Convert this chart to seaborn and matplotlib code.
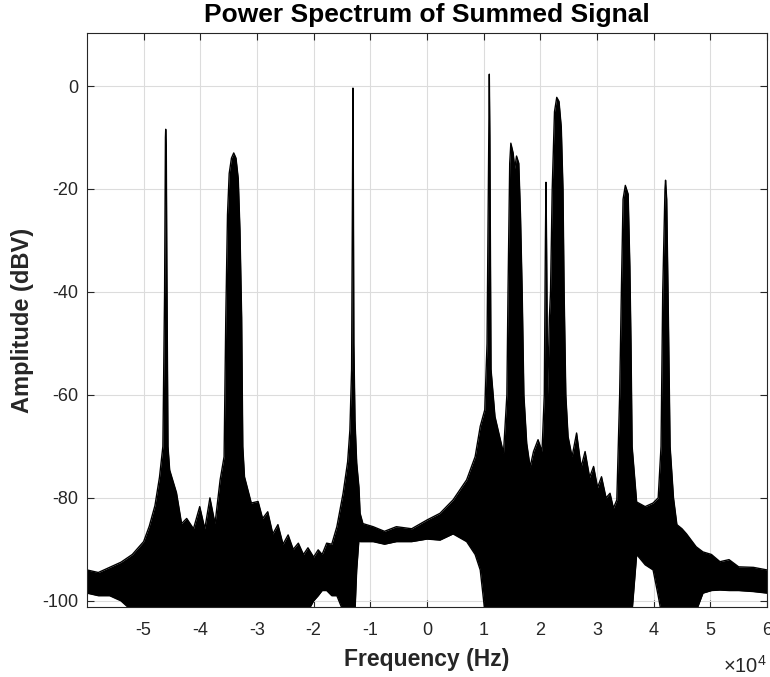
import numpy as np
import pandas as pd
import matplotlib
matplotlib.use("Agg")
import matplotlib.pyplot as plt
import seaborn as sns

# Frequency points (Hz) with the upper and lower edge of the dense spectrum trace (dBV)
freq_hz = [
    -60000, -58000, -56000, -54000, -52000, -50000, -49000, -48000, -47200, -46600,
    -46300, -46150, -46100, -46000, -45900, -45700, -45400, -44200, -43300, -42400,
    -41200, -40100, -39200, -38300, -37400, -36500, -35800, -35500, -35200, -34900,
    -34500, -34100, -33700, -33300, -33000, -32700, -32500, -32200, -31000, -29800,
    -29000, -28100, -27200, -26300, -25400, -24500, -23600, -22700, -21800, -21000,
    -20000, -19200, -18500, -17700, -16800, -15900, -14800, -14000, -13600, -13300,
    -13150, -13060, -13000, -12900, -12700, -12400, -12000, -11800, -11300, -9500,
    -7500, -5400, -2700, 0, 2300, 4600, 7000, 8500,
    9400, 10200, 10600, 10900, 11000, 11100, 11300, 12000, 12800, 13500,
    14100, 14300, 14600, 14800, 15200, 15500, 15800, 16200, 16500, 16800,
    17100, 17600, 18200, 18800, 19600, 20300, 20700, 20900, 21000, 21100, 21300,
    21600, 21800, 22100, 22500, 22900, 23300, 23700, 24000, 24200, 24500,
    24900, 25600, 26400, 27200, 27900, 28700, 29400, 30100, 30800, 31600, 32300, 32900, 33500, 34000,
    34300, 34600, 35000, 35500, 35800, 36000, 36200, 37000, 38500, 39900, 40800,
    41300, 41600, 42000, 42100, 42300, 42600, 42900, 43500, 44100, 45000, 45800,
    47500, 48700, 50200, 51700, 53300, 55000, 57600, 60000,
]
upper_dbv = [
    -94.0, -94.5, -93.5, -92.5, -91.0, -88.5, -85.5, -81.5, -76.0, -70.0,
    -40.0, -10.0, -8.4, -12.0, -35.0, -70.0, -74.6, -79.0, -85.0, -84.0,
    -86.0, -81.7, -86.0, -80.0, -85.0, -76.5, -72.0, -45.0, -25.0, -17.0,
    -14.0, -13.0, -14.0, -18.0, -28.0, -45.0, -70.0, -75.9, -81.0, -80.7,
    -84.0, -82.7, -87.0, -85.2, -89.0, -87.2, -90.0, -88.8, -91.0, -89.7,
    -91.5, -90.1, -91.0, -88.8, -89.0, -85.6, -79.1, -73.0, -66.8, -55.0,
    -20.0, -0.4, -15.0, -50.0, -65.0, -73.2, -78.0, -83.0, -85.0, -85.6,
    -86.5, -85.6, -86.0, -84.3, -83.0, -80.4, -76.5, -72.0,
    -66.1, -62.9, -50.0, -10.0, 2.3, -10.0, -55.0, -64.2, -68.0, -71.3,
    -60.0, -40.0, -15.0, -11.1, -13.0, -16.0, -13.6, -15.0, -25.0, -40.0,
    -60.0, -69.4, -74.0, -71.0, -68.7, -71.0, -60.0, -30.0, -18.7, -30.0, -60.0,
    -45.0, -40.0, -20.0, -5.0, -2.2, -3.0, -8.0, -20.0, -40.0, -60.0,
    -68.1, -72.0, -67.4, -74.0, -71.0, -76.0, -73.9, -78.0, -75.9, -80.0, -79.1, -82.0, -80.4, -60.0,
    -40.0, -22.0, -19.3, -21.0, -35.0, -50.0, -70.0, -80.8, -81.7, -81.0, -80.0,
    -70.0, -40.0, -20.0, -18.3, -22.0, -45.0, -70.0, -80.0, -85.2, -86.0, -87.0,
    -89.5, -90.5, -91.0, -92.4, -92.0, -93.4, -93.5, -94.0,
]
lower_dbv = [
    -98.5, -99.0, -99.0, -100.0, -102.0, -102.0, -102.0, -102.0, -102.0, -102.0,
    -102.0, -102.0, -102.0, -102.0, -102.0, -102.0, -102.0, -102.0, -102.0, -102.0,
    -102.0, -102.0, -102.0, -102.0, -102.0, -102.0, -102.0, -102.0, -102.0, -102.0,
    -102.0, -102.0, -102.0, -102.0, -102.0, -102.0, -102.0, -102.0, -102.0, -102.0,
    -102.0, -102.0, -102.0, -102.0, -102.0, -102.0, -102.0, -102.0, -102.0, -102.0,
    -100.0, -99.0, -98.0, -98.0, -99.0, -99.0, -102.0, -102.0, -102.0, -102.0,
    -102.0, -102.0, -102.0, -102.0, -102.0, -94.0, -88.0, -88.5, -88.5, -88.5,
    -89.0, -88.5, -88.5, -88.0, -88.2, -87.0, -88.5, -91.0,
    -94.0, -102.0, -102.0, -102.0, -102.0, -102.0, -102.0, -102.0, -102.0, -102.0,
    -102.0, -102.0, -102.0, -102.0, -102.0, -102.0, -102.0, -102.0, -102.0, -102.0,
    -102.0, -102.0, -102.0, -102.0, -102.0, -102.0, -102.0, -102.0, -102.0, -102.0, -102.0,
    -102.0, -102.0, -102.0, -102.0, -102.0, -102.0, -102.0, -102.0, -102.0, -102.0,
    -102.0, -102.0, -102.0, -102.0, -102.0, -102.0, -102.0, -102.0, -102.0, -102.0, -102.0, -102.0, -102.0, -102.0,
    -102.0, -102.0, -102.0, -102.0, -102.0, -102.0, -102.0, -91.0, -93.0, -94.0, -99.0,
    -102.0, -102.0, -102.0, -102.0, -102.0, -102.0, -102.0, -102.0, -102.0, -102.0, -102.0,
    -102.0, -98.5, -98.0, -97.9, -98.0, -98.0, -98.2, -98.5,
]

x_ticks = [-50000, -40000, -30000, -20000, -10000, 0, 10000, 20000, 30000, 40000, 50000, 60000]
x_tick_labels = ["-5", "-4", "-3", "-2", "-1", "0", "1", "2", "3", "4", "5", "6"]
y_ticks = [-100, -80, -60, -40, -20, 0]

df = pd.DataFrame({"freq": freq_hz, "upper": upper_dbv, "lower": lower_dbv})

sns.set_style("white")
plt.rcParams["font.family"] = ["Liberation Sans", "DejaVu Sans"]
plt.rcParams["axes.unicode_minus"] = False
plt.rcParams["mathtext.fontset"] = "custom"
plt.rcParams["mathtext.rm"] = "Liberation Sans"
plt.rcParams["mathtext.it"] = "Liberation Sans:italic"
plt.rcParams["mathtext.bf"] = "Liberation Sans:bold"

fig = plt.figure(figsize=(7.7, 6.77), dpi=100)
ax = fig.add_axes([87 / 770, 1 - 607 / 677, 680 / 770, 574 / 677])

ax.fill_between(df["freq"], df["lower"], df["upper"], color="black", linewidth=0)
sns.lineplot(data=df, x="freq", y="upper", ax=ax, color="black", linewidth=1.0, estimator=None, sort=False)
sns.lineplot(data=df, x="freq", y="lower", ax=ax, color="black", linewidth=1.0, estimator=None, sort=False)

ax.set_xlim(-59990, 60000)
ax.set_ylim(-101.2, 10.3)
ax.set_xticks(x_ticks)
ax.set_xticklabels(x_tick_labels)
ax.set_yticks(y_ticks)

ax.grid(True, color="#dcdcdc", linewidth=0.8)
ax.set_axisbelow(True)
for s in ax.spines.values():
    s.set_color("#262626")
    s.set_linewidth(0.8)
ax.tick_params(direction="in", length=5, width=0.8, color="#262626", labelcolor="#262626",
               labelsize=13, top=True, right=True, bottom=True, left=True)
ax.tick_params(axis="x", pad=11)
ax.tick_params(axis="y", pad=6)

ax.text(1.0, -0.103, r"$\times\mathrm{10}^{4}$", transform=ax.transAxes, ha="right", va="center",
        fontsize=14.5, color="#262626")

ax.set_title("Power Spectrum of Summed Signal", fontsize=19, fontweight="bold", color="black", pad=8)
ax.set_xlabel("Frequency (Hz)", fontsize=16.5, fontweight="bold", color="#262626", labelpad=6)
ax.set_ylabel("Amplitude (dBV)", fontsize=17, fontweight="bold", color="#262626", labelpad=6)

fig.savefig("out.png", dpi=100)
